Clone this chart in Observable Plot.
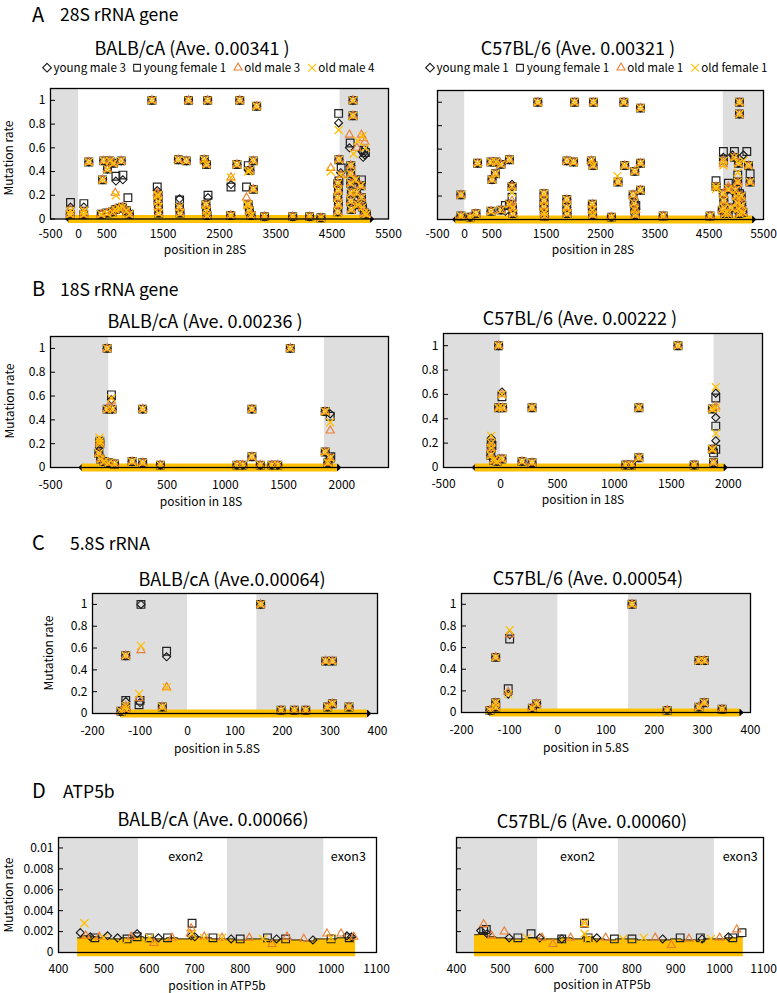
<!DOCTYPE html>
<html><head><meta charset="utf-8">
<script src="https://cdn.jsdelivr.net/npm/d3@7"></script>
<script src="https://cdn.jsdelivr.net/npm/@observablehq/plot@0.6"></script>
<style>
html,body{margin:0;padding:0;background:#fff;}
#root{position:relative;width:777px;height:993px;overflow:hidden;background:#fff;font-family:"Noto Sans CJK JP","Noto Sans",sans-serif;color:#000;}
.t{position:absolute;white-space:nowrap;line-height:1;}
.c{transform:translate(-50%,-50%);}
.l{transform:translate(0,-50%);}
.r{transform:translate(-50%,-50%) rotate(-90deg);}
.leg{position:absolute;display:flex;align-items:center;gap:6px;transform:translate(-50%,-50%);white-space:nowrap;font-size:11.6px;line-height:1;}
.leg span{display:flex;align-items:center;gap:1px;}
</style></head><body><div id="root"></div>
<script>
// ================= DATA =================
const seriesBALB = ["young male 3","young female 1","old male 3","old male 4"];
const seriesC57 = ["young male 1","young female 1","old male 1","old female 1"];

const rowLetters = ["A","B","C","D"];
const rowNames = ["28S rRNA gene","18S rRNA gene","5.8S rRNA","ATP5b"];
const panelTitles = ["BALB/cA (Ave. 0.00341 )","C57BL/6 (Ave. 0.00321 )","BALB/cA (Ave. 0.00236 )","C57BL/6 (Ave. 0.00222 )","BALB/cA (Ave.0.00064)","C57BL/6 (Ave. 0.00054)","BALB/cA (Ave. 0.00066)","C57BL/6 (Ave. 0.00060)"];
const xAxisLabels = ["position in 28S","position in 18S","position in 5.8S","position in ATP5b"];
const yAxisLabel = "Mutation rate";
const exonNames = ["exon2","exon3"];

const xTicks28S = [-500,0,500,1500,2500,3500,4500,5500];
const xTicks18S = [-500,0,500,1000,1500,2000];
const xTicks58S = [-200,-100,0,100,200,300,400];
const xTicksATP = [400,500,600,700,800,900,1000,1100];
const yTicksRate = [0,0.2,0.4,0.6,0.8,1];
const yTicksATP = [0,0.002,0.004,0.006,0.008,0.01];

// shaded (non-mature / intron) regions [from, to]
const A_L_grey = [[-500,0],[4640,5500]];
const A_R_grey = [[-500,0],[4760,5500]];
const B_L_grey = [[-500,0],[1850,2400]];
const B_R_grey = [[-500,0],[1875,2300]];
const C_L_grey = [[-200,0],[146,400]];
const C_R_grey = [[-200,0],[147,400]];
const D_L_grey = [[400,576],[772,984]];
const D_R_grey = [[400,585],[769,988]];

// sequenced range (dense near-zero points) [start, end]
const A_L_range = [-175,5180];
const A_R_range = [-165,5300];
const B_L_range = [-229,1963];
const B_R_range = [-221,1963];
const C_L_range = [-140,379];
const C_R_range = [-141,378];

// ---- 28S BALB/cA : points shared by all four mice, then per mouse
const A_L_all = [[180,0.48],[425,0.33],[445,0.49],[510,0.42],[555,0.49],[615,0.47],[755,0.49],
 [1300,1.0],[1950,1.0],[2290,1.0],[2860,1.0],[3160,0.95],
 [1770,0.50],[1910,0.49],[2230,0.50],[2270,0.46],[2810,0.46],[3100,0.49],[3100,0.25],[3040,0.41],
 [4870,1.0],[4870,0.87],[4620,0.50],
 [1410,0.2],[1410,0.15],[1415,0.1],[1420,0.05],[1790,0.1],[1800,0.05],[2260,0.12],[2270,0.07],[2280,0.03],
 [3010,0.12],[3030,0.07],[3060,0.03],[-150,0.04],[90,0.04],[400,0.04],[500,0.05],[600,0.06],[650,0.08],
 [720,0.09],[780,0.1],[850,0.07],[900,0.04],[2700,0.03],[3300,0.02],[3800,0.02],[4100,0.02],[4300,0.01],
 [4600,0.3],[4610,0.24],[4600,0.18],[4610,0.12],[4600,0.06],[4830,0.45],[4830,0.38],
 [4830,0.3],[4840,0.22],[4830,0.15],[4840,0.08],[4910,0.33],[4930,0.22],[4960,0.12],[5010,0.28],
 [5020,0.18],[5040,0.1],[5070,0.05],[5110,0.04]];
const A_L_youngMale3 = [[-145,0.1],[92,0.1],[785,0.33],[661,0.32],[1395,0.24],[1792,0.17],[2296,0.18],[2704,0.29],[3010,0.41],[4615,0.81],[4650,0.39],[4807,0.60],[5030,0.57],[5080,0.54],[5050,0.52]];
const A_L_youngFemale1 = [[-145,0.14],[92,0.13],[661,0.36],[785,0.37],[874,0.18],[1395,0.27],[1792,0.16],[2296,0.2],[2704,0.27],[2980,0.27],[3010,0.45],[4615,0.89],[4660,0.43],[4620,0.32],[4820,0.64],[5020,0.33],[5020,0.14],[5060,0.58],[5090,0.56]];
const A_L_oldMale3 = [[-145,0.08],[92,0.06],[650,0.22],[1395,0.22],[2704,0.35],[2980,0.18],[4475,0.43],[4660,0.37],[4807,0.71],[5020,0.71],[5050,0.68],[5080,0.65],[4940,0.6]];
const A_L_oldMale4 = [[-145,0.07],[92,0.07],[660,0.2],[1395,0.2],[2704,0.35],[3010,0.4],[2990,0.12],[4475,0.4],[4615,0.75],[4660,0.37],[4950,0.66],[5040,0.7],[5090,0.6],[4880,0.55]];

// ---- 28S C57BL/6
const A_R_all = [[-69,0.21],[238,0.48],[485,0.49],[577,0.49],[669,0.47],[823,0.51],[503,0.34],[565,0.39],[872,0.28],
 [1346,1.0],[2023,1.0],[2370,1.0],[2930,1.0],[3235,0.95],
 [1460,0.22],[1880,0.17],[1882,0.50],[2005,0.49],[2331,0.50],[2362,0.46],[2349,0.13],[2823,0.32],[2946,0.46],
 [3131,0.41],[3235,0.48],[3100,0.21],[3235,0.25],
 [5057,1.0],[5057,0.9],[4762,0.5],[4965,0.53],[5040,0.48],[5223,0.46],[4626,0.28],[4854,0.26],[5026,0.32],[5254,0.32],
 [208,0.05],[485,0.07],[669,0.08],[823,0.13],[880,0.1],[885,0.05],[1460,0.16],[1460,0.11],[1465,0.06],[1470,0.03],
 [1880,0.1],[1885,0.05],[2350,0.08],[2355,0.04],[3120,0.14],[3130,0.08],[3140,0.04],[2700,0.02],[3654,0.03],
 [4516,0.03],[-69,0.03],[100,0.02],
 [4760,0.22],[4770,0.16],[4780,0.1],[4790,0.05],[4740,0.08],[4980,0.25],[5000,0.2],[5020,0.14],[5040,0.09],
 [5060,0.05],[5090,0.2],[5100,0.12],[5120,0.06],[4900,0.1],[4850,0.05]];
const A_R_youngMale1 = [[872,0.3],[4762,0.53],[5131,0.55],[4930,0.55],[749,0.07],[3150,0.09]];
const A_R_youngFemale1 = [[749,0.12],[872,0.19],[3150,0.12],[4762,0.58],[4965,0.58],[5193,0.58],[4626,0.33],[4854,0.31],[5026,0.38],[5254,0.39],[5020,0.26],[5060,0.22]];
const A_R_oldMale1 = [[872,0.16],[3150,0.08],[4762,0.47],[4854,0.28],[5026,0.3],[5060,0.18]];
const A_R_oldFemale1 = [[872,0.23],[2810,0.37],[4626,0.26],[5026,0.4],[4762,0.46],[5131,0.5]];

// ---- 18S BALB/cA
const B_L_all = [[-14,1.0],[-14,0.49],[29,0.49],[291,0.49],[1228,0.49],[1557,1.0],[1857,0.47],[1857,0.13],[1228,0.09],
 [-77,0.22],[-77,0.2],[-85,0.12],[-70,0.07],[-40,0.05],[0,0.04],[50,0.03],[200,0.05],[291,0.04],[443,0.02],
 [1100,0.02],[1150,0.02],[1300,0.02],[1400,0.02],[1450,0.02],[1900,0.08],[1880,0.04]];
const B_L_youngMale3 = [[23,0.57],[1900,0.45],[-80,0.17]];
const B_L_youngFemale1 = [[23,0.61],[1900,0.43],[1905,0.09]];
const B_L_oldMale3 = [[23,0.56],[1900,0.31]];
const B_L_oldMale4 = [[23,0.58],[1900,0.38],[-80,0.25]];

// ---- 18S C57BL/6
const B_R_all = [[-16,1.0],[-16,0.49],[19,0.49],[277,0.49],[1215,0.49],[1558,1.0],[1860,0.48],[1215,0.08],
 [-81,0.2],[-81,0.16],[-85,0.1],[-60,0.06],[13,0.07],[-30,0.05],[189,0.05],[277,0.04],[1100,0.02],[1150,0.02],
 [1700,0.02],[1860,0.15],[1870,0.04]];
const B_R_youngMale1 = [[13,0.62],[1890,0.61],[1890,0.41],[1890,0.22],[-81,0.24]];
const B_R_youngFemale1 = [[13,0.58],[1890,0.57],[1890,0.34],[1890,0.15],[-75,0.18],[1870,0.12]];
const B_R_oldMale1 = [[13,0.60],[1890,0.50]];
const B_R_oldFemale1 = [[13,0.60],[1890,0.66],[1890,0.49],[1890,0.28],[-81,0.26],[1860,0.15]];

// ---- 5.8S BALB/cA
const C_L_all = [[-130,0.53],[154,1.0],[291,0.48],[305,0.48],[305,0.09],[295,0.06],[340,0.06],[-53,0.06],[-130,0.04],[197,0.03],[225,0.03],[249,0.03],[-140,0.02]];
const C_L_youngMale3 = [[-98,1.0],[-130,0.11],[-44,0.52],[-100,0.1]];
const C_L_youngFemale1 = [[-98,1.0],[-130,0.12],[-44,0.57],[-102,0.08],[-100,0.12]];
const C_L_oldMale3 = [[-98,0.58],[-130,0.07],[-44,0.24],[-102,0.14]];
const C_L_oldMale4 = [[-98,0.62],[-130,0.07],[-44,0.24],[-102,0.18]];

// ---- 5.8S C57BL/6
const C_R_all = [[-129,0.51],[154,1.0],[293,0.48],[304,0.48],[304,0.09],[293,0.05],[-129,0.09],[-129,0.05],[-44,0.08],[-53,0.04],[341,0.03],[227,0.02],[-141,0.02]];
const C_R_youngMale1 = [[-100,0.72],[-103,0.17]];
const C_R_youngFemale1 = [[-100,0.68],[-103,0.22]];
const C_R_oldMale1 = [[-100,0.72],[-103,0.19]];
const C_R_oldFemale1 = [[-100,0.76],[-103,0.17]];

// ---- ATP5b : dense band of all positions (bottom, and top profile), then outliers
const D_bandBottom = -0.0004;
const D_L_bandPos = [442,460,480,500,525,550,575,600,625,650,675,700,725,750,775,800,825,850,875,900,925,950,975,1000,1025,1054];
const D_L_bandTop = [0.0014,0.0016,0.0015,0.0014,0.0013,0.0014,0.0015,0.0014,0.0013,0.0014,0.0013,0.0015,0.0014,0.0013,0.0013,0.0012,0.0013,0.0013,0.0012,0.0013,0.0012,0.0011,0.0013,0.0013,0.0014,0.0014];
const D_R_bandPos = [441,460,480,500,525,550,575,600,625,650,675,700,725,750,775,800,825,850,875,900,925,950,975,1000,1025,1054];
const D_R_bandTop = [0.0017,0.0019,0.0015,0.0014,0.0013,0.0013,0.0014,0.0013,0.0013,0.0014,0.0013,0.0015,0.0013,0.0012,0.0013,0.0013,0.0012,0.0012,0.0012,0.0013,0.0012,0.0012,0.0013,0.0013,0.0014,0.0015];
const D_L_youngMale3 = [[448,0.0019],[573,0.0018],[508,0.0016],[1035,0.0016],[692,0.0016],[530,0.0014],[620,0.0014],[700,0.0015],[780,0.0013],[880,0.0013],[960,0.0012],[1045,0.0015],[470,0.0015]];
const D_L_youngFemale1 = [[694,0.0028],[573,0.0015],[551,0.0013],[800,0.0013],[860,0.0014],[1040,0.0014],[600,0.0014],[640,0.0014],[740,0.0014],[900,0.0013],[1000,0.0013],[480,0.0014]];
const D_L_oldMale3 = [[692,0.0023],[690,0.0018],[991,0.0018],[1022,0.0018],[903,0.0015],[721,0.0015],[460,0.0016],[490,0.0015],[560,0.0015],[650,0.0014],[760,0.0014],[820,0.0014],[940,0.0013],[1050,0.0015],[610,0.0009],[870,0.0008]];
const D_L_oldMale4 = [[457,0.0028],[694,0.0018],[760,0.0014],[500,0.0014],[600,0.0014],[720,0.0014],[850,0.0013],[1000,0.0014],[540,0.0008],[930,0.0007]];
const D_R_youngMale1 = [[455,0.0021],[470,0.0018],[640,0.0013],[1020,0.0015],[520,0.0014],[590,0.0014],[720,0.0014],[870,0.0013],[960,0.0013]];
const D_R_youngFemale1 = [[692,0.0028],[462,0.0021],[468,0.0022],[570,0.0018],[1051,0.0019],[956,0.0014],[910,0.0014],[800,0.0013],[640,0.0013],[1030,0.0014],[540,0.0014],[700,0.0014],[760,0.0013]];
const D_R_oldMale1 = [[692,0.0027],[462,0.0027],[509,0.002],[1039,0.0022],[595,0.0014],[853,0.0014],[740,0.0014],[480,0.0016],[660,0.0014],[930,0.0013],[1000,0.0014],[620,0.0008],[890,0.0007]];
const D_R_oldFemale1 = [[692,0.0028],[692,0.0018],[827,0.0014],[700,0.0013],[560,0.0014],[780,0.0013],[980,0.0013],[500,0.0008],[950,0.0008]];
const D_L_exonPos = [680,1038];
const D_R_exonPos = [676,1047];
const D_exonLevel = 0.0091;

// ================= STYLE =================
const SYM = ["diamond2","square2","triangle2","times"];
const COL = ["#111","#222","#ED7D31","#FFC000"];
const RAD = [3.6,4.9,3.9,3.7];
const SW = [1.1,1.2,1.1,1.3];
const D3SYM = [d3.symbolDiamond2,d3.symbolSquare2,d3.symbolTriangle2,d3.symbolTimes];
const GREY = "#dedede", BAND = "#FFC000";
const FONT = '"Noto Sans CJK JP","Noto Sans",sans-serif';

const root = document.getElementById("root");
function txt(s, x, y, size, cls) {
  const d = document.createElement("div");
  d.className = "t " + cls;
  d.textContent = s;
  d.style.left = x + "px"; d.style.top = y + "px"; d.style.fontSize = size + "px";
  root.appendChild(d);
  return d;
}
function legend(names, cx, cy) {
  const d = document.createElement("div");
  d.className = "leg"; d.style.left = cx + "px"; d.style.top = cy + "px";
  names.forEach((n, i) => {
    const s = document.createElement("span");
    const path = d3.symbol(D3SYM[i], [48,58,46,42][i])();
    s.innerHTML = `<svg width="11" height="11" viewBox="-5.5 -5.5 11 11"><path d="${path}" fill="none" stroke="${COL[i]}" stroke-width="1.1"/></svg>`;
    s.appendChild(document.createTextNode(n));
    d.appendChild(s);
  });
  root.appendChild(d);
}

function panel(p) {
  const [fl, fr, ft, fb] = p.frame;
  const mL = 48, mR = 14, mT = 8, mB = 30;
  const fw = fr - fl, fh = fb - ft;
  const marks = [Plot.rect(p.grey, {x1: d => d[0], x2: d => d[1], fill: GREY})];
  if (p.range) {
    marks.push(Plot.dot(p.range, {x: d => d, y: () => 0, symbol: "diamond2", r: 3.3, fill: "#000", stroke: "none"}));
    marks.push(Plot.ruleY([0], {x1: () => p.range[0], x2: () => p.range[1], stroke: BAND, strokeWidth: 8}));
  }
  if (p.bandPos) {
    const rows = p.bandPos.map((x, i) => ({x, lo: D_bandBottom, hi: p.bandTop[i]}));
    marks.push(Plot.areaY(rows, {x: "x", y1: "lo", y2: "hi", fill: BAND, curve: "step"}));
    marks.push(Plot.lineY(rows, {x: "x", y: "hi", stroke: "#222", strokeWidth: 1, curve: "step"}));
  }
  p.series.forEach((pts, i) => {
    const rows = (p.all || []).concat(pts);
    marks.push(Plot.dot(rows, {x: d => d[0], y: d => d[1], symbol: SYM[i], r: RAD[i], stroke: COL[i], strokeWidth: SW[i], fill: "none"}));
  });
  if (p.exonPos) {
    marks.push(Plot.text(p.exonPos, {x: d => d, y: () => D_exonLevel, text: (d, i) => exonNames[i], fontSize: 12.5}));
  }
  marks.push(Plot.frame({stroke: "#000", strokeWidth: 1.3}));
  marks.push(Plot.tickY(p.yTicks, {y: d => d, stroke: "#000", insetRight: fw - 5}));
  if (p.yLabels) marks.push(Plot.axisY({ticks: p.yTicks, tickSize: 0, tickPadding: 5, tickFormat: d => String(d), label: null, fontSize: 12}));
  marks.push(Plot.axisX({ticks: p.xTicks, tickSize: 0, tickPadding: p.xPad, tickFormat: d => String(d), label: null, fontSize: 12}));
  const svg = Plot.plot({
    width: fw + mL + mR, height: fh + mT + mB,
    marginLeft: mL, marginRight: mR, marginTop: mT, marginBottom: mB,
    x: {domain: p.xDomain, axis: null}, y: {domain: p.yDomain, axis: null},
    style: {fontFamily: FONT, fontSize: "12px", background: "transparent", overflow: "visible", color: "#000"},
    marks
  });
  svg.style.position = "absolute";
  svg.style.left = (fl - mL) + "px";
  svg.style.top = (ft - mT) + "px";
  svg.style.maxWidth = "none";
  root.appendChild(svg);
}

// row headers
[[14,14],[288,289],[542,543],[790,791]].forEach(([yl, yn], i) => {
  txt(rowLetters[i], 32, yl, 20, "l");
  txt(rowNames[i], [60,60,70,63][i], yn, 17.5, "l");
});
// titles
[[192,47],[578,47],[205,320],[580,317],[232,578],[588,577],[213,818],[592,820]].forEach(([x,y], i) => txt(panelTitles[i], x, y, 18, "c"));
// x labels
[[205,249],[593,249],[201,501],[583,499],[217,748],[586,747],[217,985],[602,984]].forEach(([x,y], i) => txt(xAxisLabels[Math.floor(i/2)], x, y, 12, "c"));
// y labels
[[8,158],[9,401],[48,653],[8,895]].forEach(([x,y]) => txt(yAxisLabel, x, y, 12, "r"));
legend(seriesBALB, 208, 68);
legend(seriesC57, 596, 68);

panel({frame:[50,388,88,218.5], xDomain:[-500,5500], yDomain:[0,1.1], xTicks:xTicks28S, yTicks:yTicksRate, yLabels:true, xPad:10.5,
  grey:A_L_grey, range:A_L_range, all:A_L_all, series:[A_L_youngMale3,A_L_youngFemale1,A_L_oldMale3,A_L_oldMale4]});
panel({frame:[437,763,90,219], xDomain:[-500,5500], yDomain:[0,1.1], xTicks:xTicks28S, yTicks:yTicksRate, yLabels:false, xPad:9.5,
  grey:A_R_grey, range:A_R_range, all:A_R_all, series:[A_R_youngMale1,A_R_youngFemale1,A_R_oldMale1,A_R_oldFemale1]});
panel({frame:[50,388,336,467], xDomain:[-500,2400], yDomain:[0,1.1], xTicks:xTicks18S, yTicks:yTicksRate, yLabels:true, xPad:12.5,
  grey:B_L_grey, range:B_L_range, all:B_L_all, series:[B_L_youngMale3,B_L_youngFemale1,B_L_oldMale3,B_L_oldMale4]});
panel({frame:[443,762,333,467], xDomain:[-500,2300], yDomain:[0,1.1], xTicks:xTicks18S, yTicks:yTicksRate, yLabels:true, xPad:11.5,
  grey:B_R_grey, range:B_R_range, all:B_R_all, series:[B_R_youngMale1,B_R_youngFemale1,B_R_oldMale1,B_R_oldFemale1]});
panel({frame:[92,377,593,713], xDomain:[-200,400], yDomain:[0,1.1], xTicks:xTicks58S, yTicks:yTicksRate, yLabels:true, xPad:12.5,
  grey:C_L_grey, range:C_L_range, all:C_L_all, series:[C_L_youngMale3,C_L_youngFemale1,C_L_oldMale3,C_L_oldMale4]});
panel({frame:[461,750,593,712], xDomain:[-200,400], yDomain:[0,1.1], xTicks:xTicks58S, yTicks:yTicksRate, yLabels:true, xPad:13,
  grey:C_R_grey, range:C_R_range, all:C_R_all, series:[C_R_youngMale1,C_R_youngFemale1,C_R_oldMale1,C_R_oldFemale1]});
panel({frame:[58,376,837,952], xDomain:[400,1100], yDomain:[0,0.011], xTicks:xTicksATP, yTicks:yTicksATP, yLabels:true, xPad:11.5,
  grey:D_L_grey, bandPos:D_L_bandPos, bandTop:D_L_bandTop, exonPos:D_L_exonPos, series:[D_L_youngMale3,D_L_youngFemale1,D_L_oldMale3,D_L_oldMale4]});
panel({frame:[456,763,837,952], xDomain:[400,1100], yDomain:[0,0.011], xTicks:xTicksATP, yTicks:yTicksATP, yLabels:false, xPad:11.5,
  grey:D_R_grey, bandPos:D_R_bandPos, bandTop:D_R_bandTop, exonPos:D_R_exonPos, series:[D_R_youngMale1,D_R_youngFemale1,D_R_oldMale1,D_R_oldFemale1]});
</script></body></html>
